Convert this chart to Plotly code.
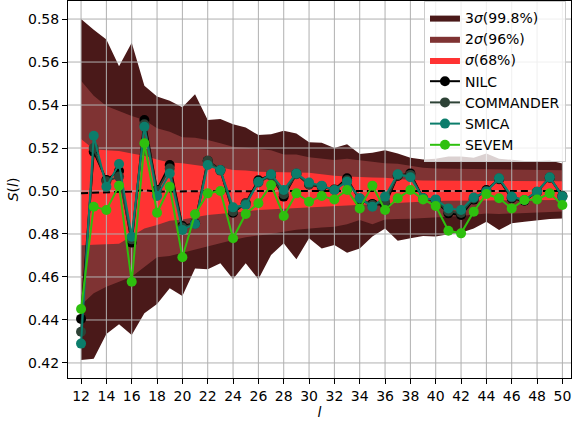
import plotly.graph_objects as go

ell = list(range(12, 51))

# confidence bands (upper / lower edges)
s3_up = [0.5800, 0.5750, 0.5705, 0.5580, 0.5690, 0.5490, 0.5440, 0.5420, 0.5390, 0.5450,
         0.5330, 0.5335, 0.5310, 0.5295, 0.5260, 0.5264, 0.5280, 0.5268, 0.5227, 0.5225,
         0.5200, 0.5217, 0.5172, 0.5178, 0.5190, 0.5175, 0.5155, 0.5147, 0.5150, 0.5160,
         0.5160, 0.5155, 0.5175, 0.5150, 0.5145, 0.5140, 0.5140, 0.5142, 0.5128]
s3_lo = [0.4214, 0.4219, 0.4335, 0.4380, 0.4330, 0.4431, 0.4474, 0.4547, 0.4512, 0.4640,
         0.4636, 0.4664, 0.4591, 0.4664, 0.4589, 0.4702, 0.4757, 0.4682, 0.4780, 0.4733,
         0.4749, 0.4713, 0.4733, 0.4788, 0.4826, 0.4769, 0.4780, 0.4791, 0.4788, 0.4799,
         0.4806, 0.4826, 0.4857, 0.4819, 0.4850, 0.4857, 0.4865, 0.4870, 0.4872]
s2_up = [0.5513, 0.5443, 0.5395, 0.5372, 0.5349, 0.5330, 0.5292, 0.5276, 0.5250, 0.5248,
         0.5237, 0.5222, 0.5206, 0.5201, 0.5197, 0.5190, 0.5170, 0.5170, 0.5157, 0.5152,
         0.5144, 0.5150, 0.5144, 0.5136, 0.5129, 0.5127, 0.5119, 0.5108, 0.5105, 0.5104,
         0.5103, 0.5102, 0.5104, 0.5100, 0.5099, 0.5098, 0.5098, 0.5097, 0.5096]
s2_lo = [0.4470, 0.4524, 0.4555, 0.4578, 0.4601, 0.4645, 0.4692, 0.4698, 0.4713, 0.4726,
         0.4741, 0.4757, 0.4772, 0.4785, 0.4793, 0.4800, 0.4811, 0.4820, 0.4826, 0.4830,
         0.4834, 0.4845, 0.4865, 0.4845, 0.4868, 0.4870, 0.4871, 0.4873, 0.4876, 0.4880,
         0.4884, 0.4888, 0.4895, 0.4893, 0.4896, 0.4899, 0.4900, 0.4902, 0.4905]
s1_up = [0.5242, 0.5194, 0.5190, 0.5186, 0.5175, 0.5164, 0.5147, 0.5133, 0.5129, 0.5121,
         0.5113, 0.5110, 0.5098, 0.5095, 0.5090, 0.5089, 0.5088, 0.5086, 0.5085, 0.5078,
         0.5071, 0.5068, 0.5064, 0.5063, 0.5062, 0.5056, 0.5051, 0.5049, 0.5048, 0.5048,
         0.5047, 0.5047, 0.5046, 0.5046, 0.5046, 0.5045, 0.5045, 0.5045, 0.5045]
s1_lo = [0.4748, 0.4750, 0.4752, 0.4755, 0.4790, 0.4826, 0.4842, 0.4862, 0.4868, 0.4878,
         0.4888, 0.4893, 0.4900, 0.4905, 0.4912, 0.4915, 0.4918, 0.4920, 0.4922, 0.4925,
         0.4928, 0.4932, 0.4935, 0.4938, 0.4941, 0.4945, 0.4948, 0.4951, 0.4954, 0.4955,
         0.4955, 0.4956, 0.4956, 0.4957, 0.4957, 0.4957, 0.4958, 0.4958, 0.4958]
mean = [0.4990, 0.4992, 0.4994, 0.4996, 0.4998, 0.5004, 0.4997, 0.4998, 0.4999, 0.4999,
        0.5000, 0.4999, 0.4999, 0.5000, 0.5000, 0.4999, 0.5000, 0.5000, 0.4999, 0.5000,
        0.5000, 0.5000, 0.4999, 0.5000, 0.5000, 0.5000, 0.5000, 0.4999, 0.5000, 0.5000,
        0.5000, 0.5000, 0.5000, 0.5000, 0.5000, 0.5000, 0.5000, 0.5000, 0.5000]

nilc = [0.4405, 0.5183, 0.5051, 0.5093, 0.4760, 0.5330, 0.5005, 0.5121, 0.4837, 0.4850,
        0.5141, 0.5098, 0.4899, 0.4943, 0.5050, 0.5075, 0.4974, 0.5080, 0.5030, 0.5020,
        0.5007, 0.5059, 0.4955, 0.4940, 0.4935, 0.5070, 0.5082, 0.4966, 0.4955, 0.4896,
        0.4888, 0.4960, 0.5005, 0.5055, 0.4965, 0.4955, 0.4995, 0.5062, 0.4975]
commander = [0.4345, 0.5200, 0.5045, 0.5067, 0.4775, 0.5310, 0.5000, 0.5105, 0.4830, 0.4848,
             0.5141, 0.5095, 0.4905, 0.4943, 0.5040, 0.5070, 0.4985, 0.5078, 0.5030, 0.5022,
             0.5005, 0.5050, 0.4965, 0.4935, 0.4950, 0.5072, 0.5075, 0.4966, 0.4958, 0.4905,
             0.4898, 0.4965, 0.5000, 0.5058, 0.4970, 0.4957, 0.4996, 0.5063, 0.4978]
smica = [0.4290, 0.5257, 0.5020, 0.5126, 0.4787, 0.5299, 0.4977, 0.5082, 0.4819, 0.4847,
         0.5121, 0.5098, 0.4924, 0.4935, 0.5043, 0.5078, 0.5005, 0.5082, 0.5039, 0.5025,
         0.5005, 0.5043, 0.4966, 0.4927, 0.4974, 0.5078, 0.5064, 0.4966, 0.4961, 0.4919,
         0.4912, 0.4970, 0.4997, 0.5059, 0.4974, 0.4958, 0.4997, 0.5064, 0.4974]
sevem = [0.4451, 0.4927, 0.4912, 0.5025, 0.4578, 0.5222, 0.4899, 0.5020, 0.4692, 0.4892,
         0.4989, 0.5000, 0.4780, 0.4893, 0.4943, 0.5028, 0.4884, 0.4989, 0.4950, 0.4977,
         0.4961, 0.5005, 0.4919, 0.5025, 0.4912, 0.4966, 0.5005, 0.4961, 0.4930, 0.4815,
         0.4803, 0.4904, 0.4986, 0.4966, 0.4919, 0.4958, 0.4961, 0.4989, 0.4935]

x_ticks = list(range(12, 51, 2))
y_ticks = [0.42, 0.44, 0.46, 0.48, 0.50, 0.52, 0.54, 0.56, 0.58]
x_range = [10.97, 50.68]
y_range = [0.413, 0.5884]

FONT = "DejaVu Sans"
fig = go.Figure()

bands = [
    ("3<i>σ</i>(99.8%)", s3_up, s3_lo, "#4a1919"),
    ("2<i>σ</i>(96%)", s2_up, s2_lo, "#7f3333"),
    ("<i>σ</i>(68%)", s1_up, s1_lo, "#ff3333"),
]
for name, up, lo, col in bands:
    fig.add_trace(go.Scatter(
        x=ell + ell[::-1], y=up + lo[::-1], fill="toself", fillcolor=col,
        line=dict(width=0, color=col), mode="lines", name=name, hoverinfo="skip",
    ))

# grid sits above the bands but below the curves, like matplotlib
gx, gy = [], []
for t in x_ticks:
    gx += [t, t, None]
    gy += [y_range[0], y_range[1], None]
for t in y_ticks:
    gx += [x_range[0], x_range[1], None]
    gy += [t, t, None]
fig.add_trace(go.Scatter(x=gx, y=gy, mode="lines", line=dict(color="#b0b0b0", width=1),
                         showlegend=False, hoverinfo="skip"))

fig.add_trace(go.Scatter(x=ell, y=mean, mode="lines",
                         line=dict(color="black", width=2, dash="7px,4px"),
                         showlegend=False))

series = [
    ("NILC", nilc, "#000000"),
    ("COMMANDER", commander, "#2d4236"),
    ("SMICA", smica, "#0b7d6b"),
    ("SEVEM", sevem, "#2ec00e"),
]
for name, vals, col in series:
    fig.add_trace(go.Scatter(
        x=ell, y=vals, mode="lines+markers", name=name,
        line=dict(color=col, width=2), marker=dict(color=col, size=10),
    ))

axis_common = dict(
    showgrid=False, zeroline=False, showline=True, linecolor="black", linewidth=1,
    mirror=True, ticks="outside", ticklen=5, tickcolor="black", automargin=False,
    tickfont=dict(family=FONT, size=14, color="black"),
)
fig.update_xaxes(range=x_range, tickvals=x_ticks,
                 title=dict(text="<i>l</i>", font=dict(family=FONT, size=14, color="black"), standoff=2),
                 **axis_common)
fig.update_yaxes(range=y_range, tickvals=y_ticks, tickformat=".2f",
                 title=dict(text="<i>S</i>(<i>l</i>)", font=dict(family=FONT, size=14, color="black"), standoff=6),
                 **axis_common)

fig.update_layout(
    width=572, height=423,
    margin=dict(l=68, r=1, t=1, b=45, autoexpand=False),
    paper_bgcolor="white", plot_bgcolor="white",
    font=dict(family=FONT, size=14, color="black"),
    legend=dict(x=0.99, y=1.0, xanchor="right", yanchor="top",
                bgcolor="rgba(255,255,255,0.8)", bordercolor="#cccccc", borderwidth=1,
                font=dict(family=FONT, size=14), tracegroupgap=0, itemwidth=30),
    showlegend=True,
)

# the browser's default 8px body margin would shift the figure
fig.write_html("out.html", config={"displayModeBar": False},
               post_script="document.body.style.margin='0';")
